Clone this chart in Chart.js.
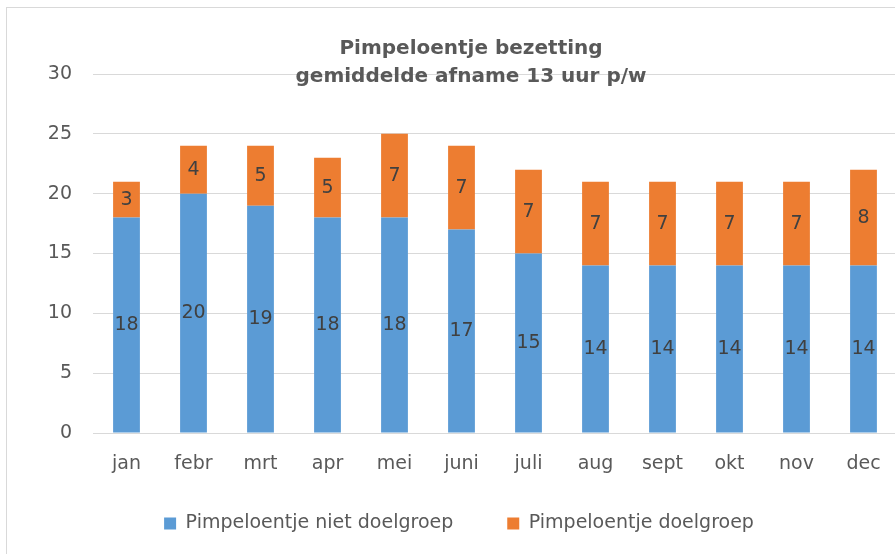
<!DOCTYPE html>
<html><head><meta charset="utf-8">
<script src="https://cdn.jsdelivr.net/npm/chart.js@4/dist/chart.umd.min.js"></script>
<style>
html,body{margin:0;padding:0;overflow:hidden;background:#fff;width:895px;height:554px}
#frame{position:absolute;left:6px;top:7px;width:932px;height:620px;border:1px solid #d9d9d9;box-sizing:border-box}
#c{position:absolute;left:7px;top:8px}
</style></head><body>
<div id="frame"></div>
<canvas id="c" width="928" height="553" style="width:928px;height:553px"></canvas>
<script>
const categories = ['jan','febr','mrt','apr','mei','juni','juli','aug','sept','okt','nov','dec'];
const nietDoelgroep = [18,20,19,18,18,17,15,14,14,14,14,14];
const doelgroep = [3,4,5,5,7,7,7,7,7,7,7,8];
const seriesNames = ['Pimpeloentje niet doelgroep','Pimpeloentje doelgroep'];
const titleLines = ['Pimpeloentje bezetting','gemiddelde afname 13 uur p/w'];
const yMin = 0, yMax = 30, yStep = 5;

const FONT = "'DejaVu Sans', sans-serif";
const TEXT = '#595959';

const labelPlugin = {
  id: 'barLabels',
  afterDatasetsDraw(chart) {
    const ctx = chart.ctx;
    ctx.save();
    ctx.font = "19px " + FONT;
    ctx.fillStyle = '#404040';
    ctx.textAlign = 'center';
    ctx.textBaseline = 'middle';
    chart.data.datasets.forEach((ds, di) => {
      const meta = chart.getDatasetMeta(di);
      meta.data.forEach((bar, i) => {
        const p = bar.getProps(['x','y','base'], true);
        ctx.fillText(String(ds.data[i]), p.x, (p.y + p.base) / 2);
      });
    });
    ctx.restore();
  }
};

const titlePlugin = {
  id: 'titleOverlay',
  afterDraw(chart) {
    const ctx = chart.ctx;
    ctx.save();
    ctx.font = "bold 20px " + FONT;
    ctx.fillStyle = TEXT;
    ctx.textAlign = 'center';
    ctx.textBaseline = 'alphabetic';
    const cx = chart.width / 2;
    ctx.fillText(titleLines[0], cx, 46);
    ctx.fillText(titleLines[1], cx, 74);
    ctx.restore();
  }
};

const legendShift = {
  id: 'legendShift',
  afterLayout(chart) {
    const l = chart.legend;
    if (l) { l.top -= 18; l.bottom -= 18; l.left += 7; l.right += 7; }
  }
};

new Chart(document.getElementById('c'), {
  type: 'bar',
  data: {
    labels: categories,
    datasets: [
      { label: seriesNames[0], data: nietDoelgroep, backgroundColor: '#5b9bd5', borderWidth: 0 },
      { label: seriesNames[1], data: doelgroep, backgroundColor: '#ed7d31', borderWidth: 0 }
    ]
  },
  options: {
    responsive: false,
    animation: false,
    devicePixelRatio: 1,
    layout: { padding: { top: 66, right: 38, left: 0, bottom: 0 } },
    datasets: { bar: { categoryPercentage: 1, barPercentage: 0.4 } },
    scales: {
      x: {
        stacked: true,
        grid: { display: false, drawTicks: false },
        border: { display: false },
        ticks: { color: TEXT, font: { family: FONT, size: 19 }, padding: 20, maxRotation: 0 },
        afterFit(s) { s.height = 45; }
      },
      y: {
        stacked: true,
        min: yMin, max: yMax,
        ticks: { stepSize: yStep, color: TEXT, font: { family: FONT, size: 19 }, padding: 21 },
        grid: { color: '#d9d9d9', lineWidth: 1, drawTicks: false },
        border: { display: false },
        afterFit(s) { s.width = 86; }
      }
    },
    plugins: {
      title: { display: false },
      tooltip: { enabled: false },
      legend: {
        position: 'bottom',
        labels: { color: TEXT, font: { family: FONT, size: 19 }, boxWidth: 12, boxHeight: 12, padding: 54 }
      }
    }
  },
  plugins: [labelPlugin, titlePlugin, legendShift]
});
</script>
</body></html>
